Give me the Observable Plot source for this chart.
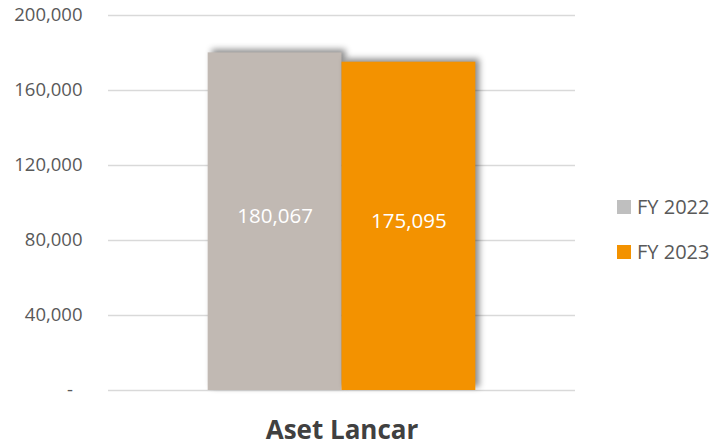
<!DOCTYPE html>
<html>
<head>
<meta charset="utf-8">
<script src="https://cdn.jsdelivr.net/npm/d3@7"></script>
<script src="https://cdn.jsdelivr.net/npm/@observablehq/plot@0.6"></script>
<style>
  body { margin: 0; background: #fff; }
  #wrap { position: relative; width: 716px; height: 446px; font-family: "Open Sans", sans-serif; }
  .legend { position: absolute; left: 617px; display: flex; align-items: center; color: #595959; font-size: 20px; }
  .legend .sw { width: 14px; height: 14px; margin-right: 6px; }
</style>
</head>
<body>
<div id="wrap"></div>
<script>
const categories = ["Aset Lancar"];
const series = ["FY 2022", "FY 2023"];
const valuesFY2022 = [180067];
const valuesFY2023 = [175095];
const yTicks = [0, 40000, 80000, 120000, 160000, 200000];
const barColors = ["#c1b9b3", "#f39200"];
const legendColors = ["#bfbfbf", "#f39200"];

const data = [];
categories.forEach((c, i) => {
  data.push({category: c, series: series[0], value: valuesFY2022[i]});
  data.push({category: c, series: series[1], value: valuesFY2023[i]});
});

const fmt = d3.format(",");
const tickFmt = d => d === 0 ? "-\u00a0\u00a0" : fmt(d);

const chart = Plot.plot({
  width: 716,
  height: 446,
  marginLeft: 108,
  marginRight: 141,
  marginTop: 15,
  marginBottom: 56,
  style: {fontFamily: "'Open Sans', sans-serif", color: "#595959", background: "#fff"},
  fx: {domain: categories, padding: 0, label: null},
  x: {domain: series, paddingInner: 0, paddingOuter: 0.745, round: false, axis: null},
  y: {domain: [0, 200000], ticks: yTicks},
  color: {domain: series, range: barColors},
  marks: [
    Plot.gridY(yTicks, {stroke: "#d9d9d9", strokeOpacity: 1, strokeWidth: 1.5}),
    Plot.axisY(yTicks, {tickSize: 0, tickPadding: 26, tickFormat: tickFmt, fontSize: 18.5, label: null, fill: "#595959"}),
    Plot.axisFx({anchor: "bottom", tickSize: 0, tickPadding: 30, fontSize: 26, fontWeight: "bold", label: null, fill: "#404040"}),
    Plot.barY(data, {fx: "category", x: "series", y: "value", fill: "series"}),
    Plot.text(data, {fx: "category", x: "series", y: d => d.value / 2, text: d => fmt(d.value), fill: "white", fontSize: 20.5, dy: -5})
  ]
});

d3.select(chart).selectAll("g[aria-label='bar'] rect")
  .style("filter", "drop-shadow(4px -3px 3px rgba(0,0,0,0.45))");

const wrap = document.getElementById("wrap");
wrap.appendChild(chart);

const legendTops = [193, 238];
series.forEach((s, i) => {
  const item = document.createElement("div");
  item.className = "legend";
  item.style.top = legendTops[i] + "px";
  const sw = document.createElement("div");
  sw.className = "sw";
  sw.style.background = legendColors[i];
  const label = document.createElement("span");
  label.textContent = s;
  item.appendChild(sw);
  item.appendChild(label);
  wrap.appendChild(item);
});
</script>
</body>
</html>
